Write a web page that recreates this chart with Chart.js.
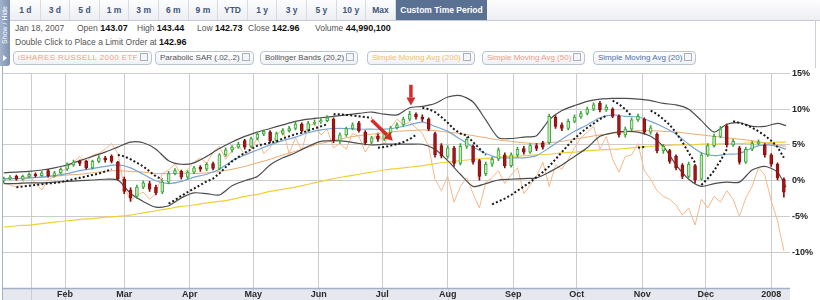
<!DOCTYPE html>
<html>
<head>
<meta charset="utf-8">
<script src="https://cdn.jsdelivr.net/npm/chart.js@4.4.1/dist/chart.umd.min.js"></script>
<style>
  body { margin: 0; width: 820px; height: 300px; overflow: hidden; background: #fff; position: relative;
         font-family: "Liberation Sans", Arial, sans-serif; }
  #tab { position: absolute; left: 0; top: 0; width: 10px; height: 66px; border-radius: 0 0 3px 0;
         background: linear-gradient(to right, #a3b2ca, #7d91b2); }
  #tab .tt { position: absolute; left: -22px; top: 20px; width: 54px; height: 10px; line-height: 10px;
             transform: rotate(-90deg); color: #fff; font-size: 7px; text-align: center; white-space: nowrap; }
  #tab .tri { position: absolute; left: 3px; top: 55px; width: 0; height: 0;
              border-top: 3px solid transparent; border-bottom: 3px solid transparent; border-left: 4px solid #fff; }
  #bar { position: absolute; left: 10px; top: 0; width: 810px; height: 20px;
         background: linear-gradient(#fdfdfe, #eceef2); border-bottom: 1px solid #c3cad6; }
  #bar .b { position: absolute; top: 0; height: 20px; width: 29.6px; line-height: 20px; text-align: center;
            font-size: 8.5px; font-weight: bold; color: #42557a; border-right: 1px solid #d6dae1; box-sizing: border-box; }
  #bar .custom { position: absolute; left: 386px; top: 0; width: 91px; height: 20px; line-height: 20px;
                 text-align: center; background: #5b7193; color: #fff; font-size: 8.5px; font-weight: bold; }
  #panel { position: absolute; left: 10px; top: 20px; width: 805px; height: 48px; border-right: 1px solid #c8d0dc; }
  .t { position: absolute; font-size: 8.5px; color: #555; line-height: 12px; white-space: nowrap; }
  .t b { font-size: 9px; color: #111; }
  .chip { position: absolute; top: 51px; height: 14px; line-height: 12px; box-sizing: border-box;
          border: 1px solid #b9c3d1; border-radius: 4px; background: linear-gradient(#ffffff, #eef1f5);
          font-size: 8px; padding: 0 3px 0 4px; white-space: nowrap; }
  .chip i { display: inline-block; vertical-align: -1px; margin-left: 2px; width: 6px; height: 6px;
            border: 1px solid #a9b1bd; background: #f4f5f7; }
  #wrap { position: absolute; left: 0; top: 66px; width: 820px; height: 234px; }
</style>
</head>
<body>
<div id="tab"><div class="tt">Show / Hide</div><div class="tri"></div></div>
<div id="bar">
  <span class="b" style="left:1px">1 d</span>
  <span class="b" style="left:30.6px">3 d</span>
  <span class="b" style="left:60.2px">5 d</span>
  <span class="b" style="left:89.8px">1 m</span>
  <span class="b" style="left:119.4px">3 m</span>
  <span class="b" style="left:149px">6 m</span>
  <span class="b" style="left:178.6px">9 m</span>
  <span class="b" style="left:208.2px">YTD</span>
  <span class="b" style="left:237.8px">1 y</span>
  <span class="b" style="left:267.4px">3 y</span>
  <span class="b" style="left:297px">5 y</span>
  <span class="b" style="left:326.6px">10 y</span>
  <span class="b" style="left:356.2px">Max</span>
  <span class="custom">Custom Time Period</span>
</div>
<div id="panel"></div>
<div class="t" style="left:15px;top:22px">Jan 18, 2007</div>
<div class="t" style="left:77px;top:22px">Open <b>143.07</b></div>
<div class="t" style="left:137px;top:22px">High <b>143.44</b></div>
<div class="t" style="left:197px;top:22px">Low <b>142.73</b></div>
<div class="t" style="left:248px;top:22px">Close <b>142.96</b></div>
<div class="t" style="left:315px;top:22px">Volume <b>44,990,100</b></div>
<div class="t" style="left:15px;top:36px">Double Click to Place a Limit Order at <b>142.96</b></div>
<div class="chip" style="left:13px;color:#f3a282;letter-spacing:0.4px">iSHARES RUSSELL 2000 ETF<i></i></div>
<div class="chip" style="left:155px;color:#555">Parabolic SAR (.02,.2)<i></i></div>
<div class="chip" style="left:260px;color:#555">Bollinger Bands (20,2)<i></i></div>
<div class="chip" style="left:367px;color:#f4c45e">Simple Moving Avg (200)<i></i></div>
<div class="chip" style="left:482px;color:#f19d84">Simple Moving Avg (50)<i></i></div>
<div class="chip" style="left:593px;color:#5070ad">Simple Moving Avg (20)<i></i></div>
<div id="wrap"><canvas id="chart" width="820" height="234"></canvas></div>

<script>
// x values are day-of-year (0 = Jan 1 2007), y values are % change
const tickDays = [15, 31, 59, 90, 120, 151, 181, 212, 243, 273, 304, 334, 365];
const tickLabels = ['', 'Feb', 'Mar', 'Apr', 'May', 'Jun', 'Jul', 'Aug', 'Sep', 'Oct', 'Nov', 'Dec', '2008'];

const candleDays = [2,5,8,11,14,17,20,23,26,29,32,35,38,41,44,47,50,53,56,59,62,65,68,71,74,77,80,83,86,89,
  92,95,98,101,104,107,110,113,116,119,122,125,128,131,134,137,140,143,146,149,152,155,158,161,164,167,170,173,176,179,
  182,185,188,191,194,197,200,203,206,209,212,215,218,221,224,227,230,233,236,239,242,245,248,251,254,257,260,263,266,269,
  272,275,278,281,284,287,290,293,296,299,302,305,308,311,314,317,320,323,326,329,332,335,338,341,344,347,350,353,356,359,
  362,365,368,371];

const opens = [0.0,0.3,0.6,0.2,0.6,0.9,0.7,1.4,0.7,1.1, 1.6,2.2,2.7,2.7,1.8,2.7,3.2,3.4,2.6,0.2,
  -1.3,-2.2,-0.9,-0.4,-0.9,-1.6,-0.2,1.0,1.3,0.5, 1.2,1.9,1.6,2.4,1.7,3.6,4.3,4.7,5.6,4.8,
  5.9,6.5,6.8,5.6,6.6,7.0,7.3,7.9,7.1,8.0, 8.2,8.4,8.6,5.6,6.4,7.3,8.1,6.8,5.4,6.2,
  5.8,6.7,7.4,7.8,8.6,9.3,8.9,8.6,6.6,4.9, 3.4,4.6,2.4,4.8,4.8,2.8,1.0,2.3,3.0,3.6,
  2.1,3.6,4.5,4.0,4.9,5.3,5.3,8.9,7.8,7.3, 8.3,8.9,9.4,10.0,10.8,9.9,10.0,9.0,6.4,7.2,
  8.5,8.6,6.8,6.5,4.2,4.2,3.4,2.2,0.6,2.1, 0.2,3.6,4.9,6.2,7.6,5.0,4.6,2.6,4.4,5.2,
  5.0,3.6,2.3,0.2];
const closes = [0.3,0.5,0.2,0.6,0.9,0.7,1.1,0.7,1.1,1.6, 2.2,2.6,2.4,1.8,2.7,3.2,2.9,2.7,0.3,-1.5,
  -2.4,-0.9,-0.3,-1.2,-1.7,-0.2,1.0,1.4,0.5,1.2, 1.8,1.6,2.3,1.7,3.6,4.3,4.7,5.1,4.7,5.9,
  6.5,6.9,5.6,6.6,7.0,7.3,7.9,7.0,8.0,8.2, 8.4,8.8,5.6,6.4,7.3,7.8,7.0,5.3,6.0,5.8,
  6.7,7.4,7.8,8.6,9.3,8.9,8.6,7.2,3.6,3.5, 4.6,2.4,4.8,5.8,2.6,0.6,2.3,3.0,4.3,2.1,
  3.6,4.4,4.0,4.9,4.5,4.7,9.0,7.6,7.3,8.3, 8.9,9.4,10.0,10.6,9.9,10.3,9.0,6.4,7.2,8.5,
  9.0,6.8,7.4,4.2,4.8,2.7,1.8,0.6,2.3,0.1, 3.6,4.9,6.2,7.2,5.0,5.5,2.6,4.4,5.2,5.4,
  3.6,2.3,0.4,-1.6];
const highs = [0.5,0.7,0.8,0.8,1.1,1.1,1.3,1.6,1.3,1.8, 2.5,2.9,2.9,2.9,2.9,3.5,3.4,3.6,2.7,0.5,
  -1.0,-0.6,0.0,-0.1,-0.6,0.1,1.3,1.7,1.5,1.4, 2.0,2.1,2.5,2.6,3.8,4.6,4.9,5.4,5.8,6.1,
  6.8,7.1,7.0,6.8,7.3,7.6,8.2,8.1,8.3,8.5, 8.7,9.1,8.8,6.7,7.5,8.1,8.3,7.0,6.2,6.5,
  6.9,7.6,8.1,8.9,9.7,9.5,9.2,8.8,6.8,5.2, 4.9,4.8,5.2,6.1,5.0,3.0,2.6,3.3,4.6,3.9,
  3.9,4.7,4.8,5.2,5.2,5.5,9.3,9.1,8.1,8.6, 9.2,9.7,10.3,10.9,11.1,10.6,10.2,9.2,7.5,8.8,
  9.3,8.8,7.7,6.7,5.1,4.4,3.6,2.4,2.6,2.3, 3.9,5.2,6.5,7.6,7.9,5.8,4.8,4.7,5.5,5.7,
  5.2,3.8,2.5,0.4];
const lows = [-0.3,0.1,0.0,0.0,0.4,0.5,0.6,0.5,0.5,0.9, 1.4,2.0,2.1,1.6,1.6,2.5,2.6,2.5,0.0,-1.8,
  -2.9,-2.5,-1.1,-1.5,-2.0,-1.8,-0.4,0.8,0.2,0.3, 1.0,1.3,1.4,1.5,1.5,3.4,4.0,4.5,4.4,4.6,
  5.7,6.3,5.3,5.4,6.4,6.8,7.1,6.8,6.9,7.8, 8.0,8.2,5.3,5.2,6.2,7.1,6.8,5.0,5.1,5.5,
  5.6,6.5,7.2,7.6,8.4,8.6,8.3,7.0,3.3,3.2, 3.1,2.0,2.2,4.5,2.3,0.0,0.7,2.0,2.8,1.8,
  1.9,3.3,3.7,3.8,4.2,4.4,5.1,7.3,7.0,7.1, 8.1,8.7,9.2,9.8,9.6,9.7,8.8,6.1,6.1,7.0,
  8.3,6.5,6.5,3.9,3.8,2.4,1.5,0.3,0.4,-0.3, 0.0,3.4,4.7,6.0,4.7,4.8,2.3,2.4,4.2,5.0,
  3.3,2.0,0.1,-2.3];

// Parabolic SAR, one value per candle
const sar = [null,null,-0.9,-0.8,-0.7,-0.6,-0.5,-0.4,-0.3,-0.2, 0.0,0.2,0.4,0.6,0.8,1.0,1.3,1.6,3.6,3.4,
  3.0,2.5,2.0,1.3,0.6,0.2,-3.2,-2.7,-2.1,-1.6, -1.1,-0.6,-0.1,0.3,1.0,1.9,2.7,3.3,3.9,4.4,
  4.9,5.1,5.3,5.5,5.9,6.2,6.5,6.7,7.0,7.3, 7.6,7.9,9.3,9.3,9.2,9.1,9.0,8.9,8.8,4.6,
  4.7,4.9,5.1,5.4,5.8,6.4,10.2,10.0,9.6,8.9, 8.1,7.2,6.6,6.3,5.4,4.5,3.6,-3.3,-2.9,-2.5,
  -2.0,-1.4,-0.8,-0.2,0.5,1.2,2.0,3.0,4.0,5.0, 5.9,6.7,7.4,8.0,8.6,9.1,11.2,10.7,10.0,9.0,
  4.6,4.7,9.8,9.3,8.6,7.8,6.7,5.4,3.9,2.5, -0.6,0.3,1.4,2.8,4.4,8.3,8.1,7.8,7.4,6.9,
  6.3,5.6,4.7,3.2];

// iShares Russell 2000 comparison, one value per candle
const russell = [-0.3,-0.6,-0.9,-0.2,0.9,-0.4,-1.3,0.2,0.5,1.2, 1.8,2.6,3.4,2.5,3.6,3.8,4.4,5.2,3.8,-0.8,
  -2.8,-2.0,-1.6,-2.6,-1.8,1.0,1.5,2.3,0.8,1.6, 2.6,3.2,2.4,4.0,4.8,3.0,4.2,5.0,3.6,4.4,
  6.0,3.8,4.6,6.4,7.2,3.8,6.0,4.2,7.6,8.0, 6.4,7.2,4.6,5.2,4.4,6.6,6.2,4.0,5.4,6.8,
  5.0,7.4,8.6,7.8,8.2,7.4,6.6,4.8,0.2,-1.4, 0.6,-3.0,-0.8,0.4,-1.8,-3.8,-0.2,0.4,1.4,-0.4,
  0.8,1.8,-1.8,-0.6,0.6,2.6,-0.8,2.2,1.6,3.0, 4.6,6.0,6.8,7.6,4.4,6.2,3.0,1.2,3.4,3.6,
  5.2,1.4,0.2,-1.4,-2.2,-2.6,-3.4,-4.8,-3.8,-6.2, -2.6,-3.8,-2.2,-3.0,-1.4,-2.6,-5.0,-2.4,-0.8,1.8,
  0.8,-2.8,-5.6,-9.8];

// smoother overlays on a coarser day grid
const lineDays = [2,8,14,20,26,32,38,44,50,56,62,68,74,80,86,92,98,104,110,116,122,128,134,140,146,152,158,164,170,176,
  182,188,194,200,206,212,218,224,230,236,242,248,254,260,266,272,278,284,290,296,302,308,314,320,326,332,338,344,350,356,
  362,368,372];
const bbUpper = [1.1,1.2,1.3,1.5,1.8,2.2,2.8,3.4,4.0,4.7, 5.4,5.3,4.4,2.8,2.3,2.5,3.4,4.5,5.4,6.2,
  6.8,7.3,7.8,8.3,8.6,8.8,9.0,9.2,9.4,9.6, 9.3,9.2,10.2,10.4,10.8,11.7,11.9,11.0,8.5,6.0,
  5.9,6.1,6.3,8.5,9.8,10.5,11.1,11.4,11.5,11.5, 11.4,11.2,10.8,10.6,10.0,8.4,6.8,7.9,8.1,7.6,
  7.6,8.0,7.7];
const bbLower = [-0.4,-0.4,-0.3,-0.3,-0.2,-0.1,0.0,0.1,0.2,0.1, -1.8,-2.9,-3.7,-3.5,-2.4,-1.7,-1.8,-2.0,-0.7,0.0,
  0.6,2.2,3.2,3.9,4.8,5.5,5.6,5.5,5.2,5.0, 5.1,5.1,5.1,5.1,4.4,2.8,0.9,-0.8,-0.4,0.1,
  0.2,0.3,0.4,1.2,2.2,3.4,4.6,6.2,6.7,6.9, 6.8,6.2,4.8,2.2,0.2,-0.8,-0.4,-0.2,-0.2,1.5,
  2.0,1.2,-0.9];
const sma20 = [0.3,0.3,0.4,0.5,0.7,1.0,1.4,1.7,2.0,2.2, 1.8,0.9,0.0,-0.4,-0.1,0.5,0.9,1.6,2.8,3.6,
  4.3,5.0,5.6,6.1,6.7,7.1,7.3,7.3,7.2,7.2, 7.2,7.4,7.8,8.2,7.6,6.9,5.8,4.7,3.8,3.2,
  3.2,3.2,3.5,4.6,5.8,6.9,7.8,8.8,9.2,9.0, 8.9,8.3,7.5,6.5,5.1,3.9,3.5,3.7,3.8,4.6,
  5.0,4.8,4.4];
const sma50 = [0.2,0.3,0.4,0.5,0.6,0.8,0.9,1.1,1.3,1.4, 1.3,1.2,1.0,1.0,1.0,1.0,1.1,1.3,1.6,2.0,
  2.5,3.0,3.6,4.1,4.7,5.2,5.6,6.0,6.3,6.5, 6.7,6.9,7.0,7.1,7.0,6.8,6.6,6.3,6.0,5.7,
  5.5,5.3,5.2,5.3,5.5,5.8,6.1,6.4,6.6,6.8, 7.0,7.0,6.9,6.8,6.6,6.4,6.2,6.0,5.8,5.6,
  5.3,5.0,4.8];
const sma200 = [-6.5,-6.3,-6.2,-6.0,-5.8,-5.6,-5.4,-5.3,-5.1,-5.0, -4.8,-4.5,-4.2,-3.9,-3.6,-3.4,-3.1,-2.9,-2.6,-2.2,
  -1.9,-1.5,-1.2,-0.9,-0.5,-0.1,0.3,0.6,0.9,1.2, 1.5,1.7,1.9,2.1,2.4,2.6,2.8,3.0,3.1,3.3,
  3.4,3.5,3.6,3.7,3.9,4.0,4.2,4.3,4.4,4.5, 4.7,4.8,4.9,5.0,5.0,5.1,5.1,5.2,5.2,5.3,
  5.3,5.4,5.4];

// red arrows drawn on the chart (day, %)
const arrows = [
  { x0: 194.6, y0: 13.4, x1: 194.6, y1: 10.5 },
  { x0: 176.0, y0: 8.5, x1: 186.0, y1: 5.6 }
];

const isUp = i => closes[i] >= opens[i];
const sarAbove = i => sar[i] !== null && sar[i] > closes[i];
const pts = (days, vals) => days.map((d, i) => ({ x: d, y: vals[i] }));

const framePlugin = {
  id: 'frame',
  beforeDraw(chart) {
    const { ctx, chartArea: a, scales: { x } } = chart;
    ctx.save();
    ctx.fillStyle = '#e5e9ef';
    ctx.fillRect(a.left, a.bottom, a.right - a.left, chart.height - a.bottom);
    ctx.strokeStyle = '#c9ced6';
    ctx.lineWidth = 1;
    tickDays.forEach(d => {
      const px = Math.round(x.getPixelForValue(d)) + 0.5;
      ctx.beginPath();
      ctx.moveTo(px, a.bottom);
      ctx.lineTo(px, chart.height);
      ctx.stroke();
    });
    ctx.restore();
  },
  beforeDatasetsDraw(chart) {
    const { ctx, chartArea: a } = chart;
    ctx.save();
    ctx.strokeStyle = '#a3b1c6';
    ctx.lineWidth = 1.5;
    ctx.beginPath();
    ctx.moveTo(a.left, a.bottom + 0.5);
    ctx.lineTo(a.right, a.bottom + 0.5);
    ctx.stroke();
    ctx.lineWidth = 1;
    ctx.beginPath();
    ctx.moveTo(a.left - 0.5, 0);
    ctx.lineTo(a.left - 0.5, chart.height);
    ctx.stroke();
    ctx.restore();
  },
  afterDatasetsDraw(chart) {
    const { ctx, scales: { x, y } } = chart;
    ctx.save();
    ctx.fillStyle = ctx.strokeStyle = '#d42b2b';
    arrows.forEach(ar => {
      const x0 = x.getPixelForValue(ar.x0), y0 = y.getPixelForValue(ar.y0);
      const x1 = x.getPixelForValue(ar.x1), y1 = y.getPixelForValue(ar.y1);
      const ang = Math.atan2(y1 - y0, x1 - x0);
      const c = Math.cos(ang), s = Math.sin(ang);
      const hx = x1 - 8 * c, hy = y1 - 8 * s;
      ctx.lineWidth = 3.5;
      ctx.beginPath();
      ctx.moveTo(x0, y0);
      ctx.lineTo(hx, hy);
      ctx.stroke();
      ctx.beginPath();
      ctx.moveTo(x1, y1);
      ctx.lineTo(hx + 4.5 * s, hy - 4.5 * c);
      ctx.lineTo(hx - 4.5 * s, hy + 4.5 * c);
      ctx.closePath();
      ctx.fill();
    });
    ctx.restore();
  }
};

const lineBase = { type: 'line', pointRadius: 0, borderWidth: 1.2, tension: 0.25, fill: false };

new Chart(document.getElementById('chart'), {
  type: 'bar',
  data: {
    datasets: [
      {
        ...lineBase, label: 'Parabolic SAR', order: 0, tension: 0,
        data: pts(candleDays, sar), borderColor: '#1b1b1b', borderWidth: 2, borderDash: [2, 2.2],
        spanGaps: false,
        segment: {
          borderColor: ctx => sarAbove(ctx.p0DataIndex) !== sarAbove(ctx.p1DataIndex) ? 'rgba(0,0,0,0)' : '#1b1b1b'
        }
      },
      {
        label: 'body', order: 1, grouped: false, barThickness: 3, borderWidth: 1, borderSkipped: false,
        data: candleDays.map((d, i) => ({ x: d, y: [opens[i], closes[i]] })),
        backgroundColor: ctx => isUp(ctx.dataIndex) ? '#c6eabb' : '#a81717',
        borderColor: ctx => isUp(ctx.dataIndex) ? '#3ca83c' : '#8a0f0f'
      },
      {
        label: 'wick', order: 2, grouped: false, barThickness: 1, borderWidth: 0,
        data: candleDays.map((d, i) => ({ x: d, y: [lows[i], highs[i]] })),
        backgroundColor: ctx => isUp(ctx.dataIndex) ? '#3ca83c' : '#8a0f0f'
      },
      { ...lineBase, label: 'BB upper', order: 3, data: pts(lineDays, bbUpper), borderColor: '#4d4d4d' },
      { ...lineBase, label: 'BB lower', order: 3, data: pts(lineDays, bbLower), borderColor: '#4d4d4d' },
      { ...lineBase, label: 'SMA 20', order: 4, data: pts(lineDays, sma20), borderColor: '#78a6d6' },
      { ...lineBase, label: 'SMA 50', order: 5, data: pts(lineDays, sma50), borderColor: '#e9aa70', borderWidth: 1 },
      { ...lineBase, label: 'SMA 200', order: 6, data: pts(lineDays, sma200), borderColor: '#f1cf3c' },
      { ...lineBase, label: 'Russell 2000', order: 7, tension: 0, data: pts(candleDays, russell),
        borderColor: '#f6b88a', borderWidth: 1 }
    ]
  },
  options: {
    responsive: false,
    animation: false,
    layout: { padding: { left: 3, top: 6, right: 0, bottom: 0 } },
    plugins: { legend: { display: false }, tooltip: { enabled: false } },
    scales: {
      x: {
        type: 'linear', min: 1.66, max: 373.9, offset: false,
        afterBuildTicks: s => { s.ticks = tickDays.map(v => ({ value: v })); },
        afterFit: s => { s.height = 12; },
        grid: { color: '#cccccc', drawTicks: false, offset: false },
        border: { display: false },
        ticks: {
          autoSkip: false, maxRotation: 0, padding: 1, color: '#2a2a2a',
          font: { family: 'Liberation Sans', size: 9, weight: 'bold' },
          callback: (v, i) => tickLabels[i]
        }
      },
      y: {
        position: 'right', min: -15, max: 15,
        afterFit: s => { s.width = 30; },
        grid: { color: '#cccccc', drawTicks: false },
        border: { display: false },
        ticks: {
          stepSize: 5, padding: 2, color: '#222',
          font: { family: 'Liberation Sans', size: 9, weight: 'bold' },
          callback: v => v === -15 ? '' : v + '%'
        }
      }
    }
  },
  plugins: [framePlugin]
});
</script>
</body>
</html>
